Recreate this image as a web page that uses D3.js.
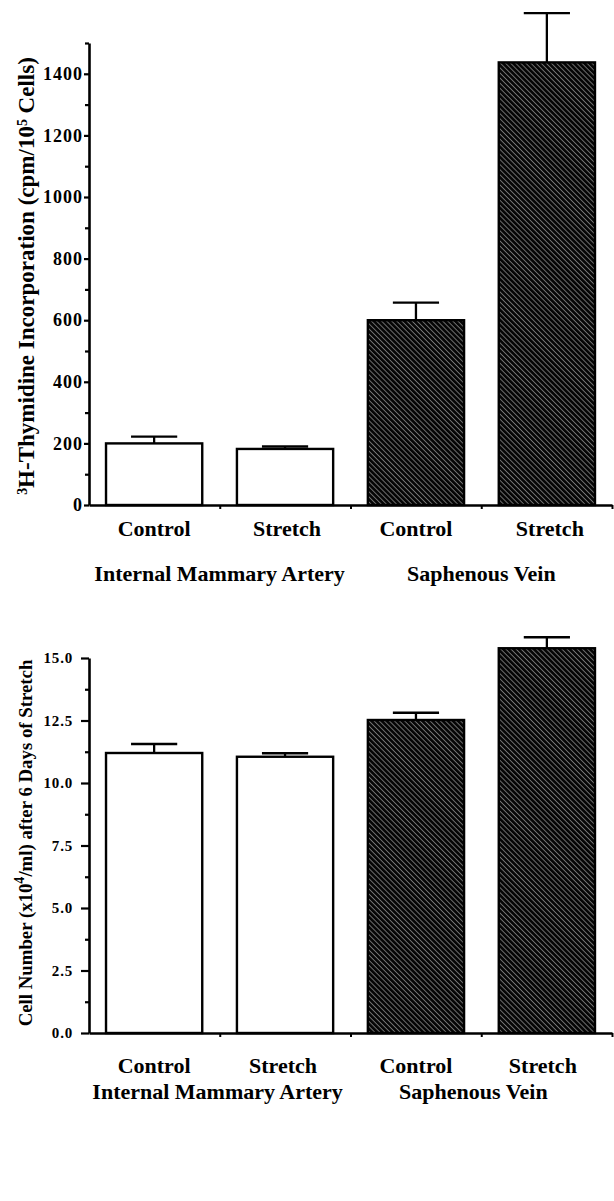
<!DOCTYPE html>
<html>
<head>
<meta charset="utf-8">
<script src="https://cdn.jsdelivr.net/npm/d3@7"></script>
<style>
  html, body { margin: 0; padding: 0; background: #fff; }
  svg { display: block; }
  text { font-family: "Liberation Serif", "Times New Roman", serif; font-weight: bold; fill: #000; }
</style>
</head>
<body>
<svg id="chart" width="614" height="1201"></svg>
<script>
// ---------- data ----------
const barKeys = ["IMA-Control", "IMA-Stretch", "SV-Control", "SV-Stretch"];
const barLabels = ["Control", "Stretch", "Control", "Stretch"];
const barGroup = [0, 0, 1, 1];
const groupNames = ["Internal Mammary Artery", "Saphenous Vein"];

const thymidineMeans = [200, 182, 600, 1437];
const thymidineErrors = [22, 8, 57, 160];
const thymidineTicks = [0, 200, 400, 600, 800, 1000, 1200, 1400];
const thymidineMinorTicks = [100, 300, 500, 700, 900, 1100, 1300, 1500];

const cellMeans = [11.2, 11.05, 12.52, 15.39];
const cellErrors = [0.36, 0.14, 0.29, 0.44];
const cellTicks = [0, 2.5, 5.0, 7.5, 10.0, 12.5, 15.0];
const cellMinorTicks = [1.25, 3.75, 6.25, 8.75, 11.25, 13.75];

// ---------- drawing ----------
const svg = d3.select("#chart");

const defs = svg.append("defs");
const pat = defs.append("pattern")
  .attr("id", "hatch")
  .attr("patternUnits", "userSpaceOnUse")
  .attr("width", 3.6).attr("height", 3.6)
  .attr("patternTransform", "rotate(45)");
pat.append("rect").attr("width", 3.6).attr("height", 3.6).attr("fill", "#050505");
pat.append("line").attr("x1", 0).attr("y1", 0.5).attr("x2", 3.6).attr("y2", 0.5)
  .attr("stroke", "#a8a8a8").attr("stroke-width", 0.65);

const xLeft = 89, xRight = 612;

function drawChart(cfg) {
  const g = svg.append("g");
  const y = d3.scaleLinear().domain(cfg.domain).range([cfg.y0, cfg.yTop]);
  const x = d3.scaleBand().domain(barKeys).range([xLeft, xRight]).paddingInner(0.265).paddingOuter(0.13);
  const xb = d3.scaleLinear().domain([0, barKeys.length]).range([xLeft, xRight]);

  const data = barKeys.map((k, i) => ({ k, i, v: cfg.means[i], e: cfg.errors[i] }));

  // error bars (upper half only)
  const capW = x.bandwidth() * 0.48;
  const eg = g.append("g").attr("stroke", "#000").attr("stroke-width", 2.3).attr("fill", "none");
  eg.selectAll("line.v").data(data).join("line").attr("class", "v")
    .attr("x1", d => x(d.k) + x.bandwidth() / 2).attr("x2", d => x(d.k) + x.bandwidth() / 2)
    .attr("y1", d => y(d.v)).attr("y2", d => y(d.v + d.e));
  eg.selectAll("line.c").data(data).join("line").attr("class", "c")
    .attr("x1", d => x(d.k) + x.bandwidth() / 2 - capW / 2).attr("x2", d => x(d.k) + x.bandwidth() / 2 + capW / 2)
    .attr("y1", d => y(d.v + d.e)).attr("y2", d => y(d.v + d.e));

  // bars
  g.selectAll("rect.bar").data(data).join("rect").attr("class", "bar")
    .attr("x", d => x(d.k)).attr("width", x.bandwidth())
    .attr("y", d => y(d.v)).attr("height", d => y(0) - y(d.v))
    .attr("fill", d => barGroup[d.i] === 1 ? "url(#hatch)" : "#fff")
    .attr("stroke", "#000").attr("stroke-width", 2.4);

  // y axis major
  const yAxis = g.append("g").attr("transform", `translate(${xLeft},0)`)
    .call(d3.axisLeft(y).tickValues(cfg.ticks).tickFormat(cfg.fmt).tickSize(cfg.majorLen).tickSizeOuter(0).tickPadding(cfg.tickPad));
  yAxis.select(".domain").attr("stroke-width", 2.6);
  yAxis.selectAll(".tick line").attr("stroke-width", 2.2);
  yAxis.selectAll(".tick text").style("font-size", cfg.tickFont + "px")
    .style("letter-spacing", cfg.tickSpacing + "px")
    .style("font-family", "Liberation Serif, serif").style("font-weight", "bold");

  // y axis minor
  const yMinor = g.append("g").attr("transform", `translate(${xLeft},0)`)
    .call(d3.axisLeft(y).tickValues(cfg.minor).tickFormat("").tickSize(4).tickSizeOuter(0));
  yMinor.select(".domain").remove();
  yMinor.selectAll(".tick line").attr("stroke-width", 2.2);

  // x axis (ticks between bars)
  const xAxis = g.append("g").attr("transform", `translate(0,${cfg.y0})`)
    .call(d3.axisBottom(xb).tickValues(d3.range(1, barKeys.length + 1)).tickFormat("").tickSize(4).tickSizeOuter(0));
  xAxis.select(".domain").attr("stroke-width", 2.6);
  xAxis.selectAll(".tick line").attr("stroke-width", 2);

  // category labels
  g.selectAll("text.cat").data(data).join("text").attr("class", "cat")
    .attr("x", d => x(d.k) + x.bandwidth() / 2 + cfg.catDx[d.i])
    .attr("y", cfg.catY).attr("text-anchor", "middle")
    .style("font-size", cfg.catFont + "px")
    .text(d => barLabels[d.i]);

  // group labels
  groupNames.forEach((name, gi) => {
    const ks = barKeys.filter((k, i) => barGroup[i] === gi);
    const cx = (x(ks[0]) + x(ks[ks.length - 1]) + x.bandwidth()) / 2;
    g.append("text").attr("x", cx + cfg.grpDx[gi]).attr("y", cfg.grpY)
      .attr("text-anchor", "middle").style("font-size", cfg.catFont + "px").text(name);
  });

  // y title
  const t = g.append("text")
    .attr("transform", `translate(${cfg.titleX},${cfg.titleCY}) rotate(-90)`)
    .attr("text-anchor", "middle").style("font-size", "20px");
  cfg.title(t);
  const len = t.node().getComputedTextLength();
  t.style("font-size", (20 * cfg.titleLen / len).toFixed(2) + "px");
}

drawChart({
  domain: [0, 1500], y0: 505, yTop: 43,
  means: thymidineMeans, errors: thymidineErrors,
  ticks: thymidineTicks, minor: thymidineMinorTicks, fmt: d3.format("d"),
  tickFont: 18, tickSpacing: 1, majorLen: 5, tickPad: 1,
  catFont: 22, catY: 536, grpY: 581,
  catDx: [0, 2, 0, 3], grpDx: [0, 0],
  titleX: 34, titleCY: 276, titleLen: 438,
  title: t => {
    t.append("tspan").attr("baseline-shift", "super").style("font-size", "0.6em").text("3");
    t.append("tspan").text("H-Thymidine Incorporation (cpm/10");
    t.append("tspan").attr("baseline-shift", "super").style("font-size", "0.6em").text("5");
    t.append("tspan").text(" Cells)");
  }
});

drawChart({
  domain: [0, 15], y0: 1033, yTop: 658,
  means: cellMeans, errors: cellErrors,
  ticks: cellTicks, minor: cellMinorTicks, fmt: d3.format(".1f"),
  tickFont: 15, tickSpacing: 0.8, majorLen: 8, tickPad: 8,
  catFont: 22, catY: 1073, grpY: 1099,
  catDx: [0, -2, 0, -4], grpDx: [-2, -8],
  titleX: 32, titleCY: 843, titleLen: 367,
  title: t => {
    t.append("tspan").text("Cell Number (x10");
    t.append("tspan").attr("baseline-shift", "super").style("font-size", "0.75em").text("4");
    t.append("tspan").text("/ml) after 6 Days of Stretch");
  }
});
</script>
</body>
</html>
